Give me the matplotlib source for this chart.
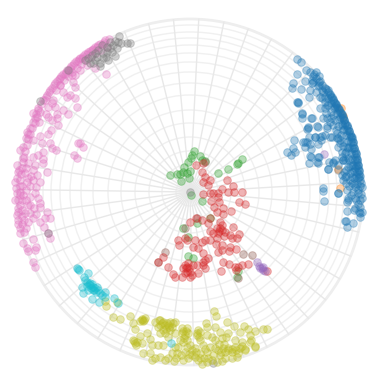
import numpy as np
import matplotlib
matplotlib.use("Agg")
import matplotlib.pyplot as plt

# all points, in picture pixels
blue = [(297,59),(301,62),(306,70),(297,74),(316,72),(319,76),(305,81),(293,83),(292,88),(301,89),
(312,83),(313,82),(310,90),(309,97),(319,85),(322,90),(328,90),(325,97),(297,102),(298,103),
(302,114),(302,118),(311,118),(308,127),(307,129),(317,126),(327,128),(294,140),(293,148),(287,152),
(291,155),(295,152),(305,147),(307,142),(310,144),(309,137),(315,137),(322,136),(325,135),(321,140),
(318,144),(311,157),(309,163),(318,157),(318,163),(329,162),(333,163),(328,169),(335,160),(332,137),
(338,138),(343,146),(347,147),(342,157),(343,160),
(310,72),(316,78),(322,85),(328,92),(331,97),(334,102),(337,107),(340,112),(343,117),(345,123),
(348,128),(350,134),(352,139),(353,145),(355,151),(356,157),(357,162),(358,168),(359,174),(360,180),(360,186),
(313,76),(319,82),(325,88),(330,95),(333,100),(336,105),(339,110),(342,115),(344,120),(347,126),
(349,131),(351,137),(353,142),(354,148),(356,154),(357,160),(358,165),(359,171),(359,177),
(312,80),(318,86),(323,92),(328,98),(331,103),(334,108),(337,113),(339,119),(342,124),(344,129),
(346,135),(348,141),(349,147),(351,153),(352,159),(353,165),(354,171),
(314,74),(320,81),(326,89),(330,94),(333,99),(336,104),(339,109),(342,114),(344,120),(347,125),
(349,131),(351,136),(353,142),(354,148),(356,153),(357,159),(358,165),(359,170),(360,176),(361,183),
(335,103),(338,108),(341,113),(343,118),(345,124),(347,130),(349,136),(351,142),(352,148),(354,154),
(355,160),(356,166),(357,172),(358,178),(357,184),(354,178),(352,172),(350,166),(348,158),(346,152),
(344,142),(341,135),(338,126),(335,120),(331,112),(328,105),(325,102),(320,97),(316,92),(327,118),
(333,125),(337,133),(340,140),(345,160),(348,167),(352,177),(349,186),(346,183),(342,175),(338,165),
(324,201),(347,202),(348,200),(355,198),(360,200),(362,198),(323,191),(338,193),(353,192),(347,211),
(355,208),(359,212),(362,212),(360,217),(354,210),(345,221),(353,223),(347,227),
(352,165),(345,177),(350,173),(343,180),(355,168),(355,187),(362,187),(358,193),(348,198),(360,207),
(360,213),(346,221),(323,188),(338,193),(328,169),(317,162),(310,156),(319,157),(333,162),(343,160),
(342,152),(338,147),(348,148),(343,130),(342,125),(352,137),(330,137),(337,138),(320,137),(315,137),
(305,142),(311,149),(303,142),(308,128),(318,127),(327,126),(312,118),(302,113),(298,102),(320,108),
(325,108),(322,98),(332,97),(327,105),(333,115),(323,118),(330,122),(340,117),(335,107),(346,170),
(350,180),(352,183),(347,190),(344,172),(349,160),(345,153),(340,143),(336,130),(331,118),(326,113),
(358,190),(361,194),(356,200),(358,204),(351,195),(354,184),(346,176),(356,176)]

orange = [(338,169),(341,108),(340,188),(343,116)]

pink = [(109,39),(104,42),(98,45),(93,49),(88,52),(83,56),(79,59),(74,63),(70,68),(66,72),
(61,76),(57,81),(54,85),(50,90),(47,95),(43,100),
(107,47),(101,50),(96,53),(91,57),(86,60),(81,64),(77,68),(72,72),(68,76),(64,80),(60,85),(56,90),
(105,40),(100,44),(95,47),(90,51),(85,54),(80,58),(76,61),(71,66),(67,70),(63,74),(59,79),(55,83),(52,88),
(103,44),(97,47),(92,50),(87,54),(82,58),(78,61),(73,65),(69,70),(65,74),(60,78),(49,92),(46,97),
(40,112),(37,117),(35,123),(32,128),(30,134),(28,139),(27,145),(25,151),(24,157),(23,162),
(22,168),(21,174),(20,180),(20,186),(20,192),(33,113),(27,132),(35,118),(33,122),(30,128),(28,134),
(26,138),(36,114),(38,108),(41,104),
(106,74),(78,143),(80,143),(83,147),(74,155),(77,158),(77,107),(68,114),(63,110),(57,114),
(57,118),(58,125),(52,120),(48,117),(46,114),(55,107),(48,107),(38,110),(39,122),(51,130),
(48,134),(33,140),(40,136),(50,143),(52,148),(56,150),(42,143),(43,152),(43,159),(43,163),
(47,172),(40,182),(33,180),(33,157),(28,163),(23,158),(23,147),(20,150),(17,165),(18,172),
(15,182),(25,173),(33,170),(27,182),(35,165),(38,155),(60,85),(63,92),(75,87),(73,82),
(75,75),(70,95),(75,98),(67,97),(53,100),(52,103),(45,100),(95,68),(87,65),(80,70),(72,75),
(17,193),(15,200),(23,195),(30,197),(35,193),(28,205),(40,203),(40,207),(47,212),(50,218),
(45,218),(40,222),(33,218),(30,213),(25,213),(17,215),(18,220),(20,228),(20,233),(26,228),
(33,239),(44,227),(48,233),(50,238),(23,243),(27,248),(36,247),(35,250),(28,251),(33,262),(35,267),
(20,205),(22,210),(18,200),(26,190),(28,178),(30,186),(18,208),(24,220),(22,224),
(16,188),(17,178),(19,170),(20,195),(22,200),(26,200),(30,205),(34,208),(38,198),(36,187),
(22,186),(26,168),(31,176),(37,175),(18,212),(22,216),(28,222),(36,214),(18,224),(24,232)]

gray = [(119,36),(130,43),(127,43),(121,43),(118,42),(115,41),(117,48),(115,56),(112,52),(108,60),
(106,57),(100,63),(100,66),(93,63),(95,60),(88,58),(90,63),(107,47),(102,45),(98,50),(103,53),
(110,42),(113,45),(95,53),(92,55),(103,58),(85,60),(97,57),(107,52),(110,48),(40,101),(68,70),
(190,192),(48,233),(338,170),(213,363)]

olive = [(113,317),(120,319),(130,316),(133,323),(135,329),(142,320),(143,321),(140,321),(145,318),(155,322),
(159,320),(162,323),(165,325),(158,327),(170,322),(173,323),(175,322),(168,325),(163,330),(160,333),
(172,327),(147,333),(140,336),(150,339),(133,340),(135,343),(137,342),(142,343),(152,345),(158,345),
(163,345),(175,333),(175,347),(182,328),(187,328),(185,335),(182,333),(188,333),(180,340),(187,340),
(187,347),(190,345),(198,330),(197,333),(200,332),(206,323),(207,327),(215,327),(227,322),(214,311),
(216,316),(220,332),(228,333),(207,335),(212,337),(200,340),(203,345),(215,340),(222,338),(226,337),
(235,340),(240,332),(244,326),(250,335),(255,331),(263,329),(267,329),(250,342),(255,347),(245,349),
(242,342),(235,347),(228,348),(223,348),(218,350),(232,352),(238,353),(237,357),(232,358),(225,358),
(220,355),(213,355),(207,352),(200,353),(195,357),(198,360),(202,364),(207,362),(217,362),(222,361),
(215,348),(192,355),(188,358),(183,360),(174,361),(165,360),(155,358),(150,353),(143,353),(152,360),
(172,353),(177,353),(185,352),(178,347),(168,337),(165,333),(195,348),(210,347),(183,342),
(106,306),(105,301),(117,302),(234,326),(248,329),(251,340),(255,346),(245,350),
(160,320),(163,322),(167,323),(160,325),(169,327),(166,329),(170,330),(142,319),(144,320),(134,341),
(136,345),(183,331),(186,331),(184,338),(197,335),(199,337),(228,350),(232,349),(236,350),(240,348),
(225,352),(221,352),(242,346),(204,358),(208,358),(212,360),(196,352),(200,358),(192,350),(189,354),
(181,355),(176,358),(168,358),(160,357),(205,349),(219,344),(224,344)]

cyan = [(77,268),(79,270),(88,273),(84,277),(87,282),(90,285),(93,287),(95,288),(98,290),(82,287),
(83,293),(88,290),(92,299),(99,302),(105,292),(105,297),(102,295),(114,298),(118,303),(90,283),
(93,290),(97,287),(171,343),(89,284),(92,284),(94,290),(96,292),(91,288),(87,286),(100,293),(78,269),(85,280)]

red = [(196,165),(203,163),(202,172),(205,177),(210,180),(203,182),(208,185),(227,180),(233,186),(228,192),
(234,192),(242,192),(203,194),(210,193),(213,193),(218,193),(222,189),(218,197),(211,201),(219,202),
(239,202),(245,204),(214,207),(223,208),(231,211),(217,212),(223,214),(210,218),(196,218),(190,222),
(202,220),(208,223),(220,222),(222,225),(233,227),(217,228),(210,231),(213,233),(225,232),(222,230),
(218,233),(230,235),(239,234),(237,238),(232,238),(217,238),(210,240),(205,240),(202,242),(195,240),
(185,238),(178,240),(179,245),(187,240),(193,247),(198,248),(216,244),(222,245),(230,247),(236,249),
(229,251),(218,252),(222,250),(203,253),(208,258),(205,260),(203,265),(205,268),(197,265),(193,265),
(188,263),(185,265),(183,268),(187,272),(192,275),(198,273),(182,277),(173,274),(175,277),(168,267),
(163,257),(158,262),(223,262),(221,271),(229,264),(235,267),(238,267),(236,270),(242,265),(248,264),
(190,272),(185,273),(190,277),(203,262),(187,267),(267,271),(220,228),(219,231),(224,236),(186,268),(189,268)]

green = [(194,151),(192,155),(191,158),(200,156),(202,160),(205,161),(188,162),(184,167),(183,172),(190,171),
(170,175),(177,174),(180,174),(187,173),(181,181),(189,178),(218,173),(228,169),(238,163),(242,159),
(237,164),(202,201),(191,195),(210,218),(197,223),(183,228),(188,237),(188,256),(193,258),(238,271),(237,277)]

brown = [(205,162),(165,252),(158,262),(243,254),(252,255),(238,278),(197,218),(185,228)]

purple = [(257,262),(259,266),(262,268),(263,270),(265,271),(260,268),(263,267),(324,154)]

# grid rings, read along the top of the disk
ring_radii = [14,28,41,55,69,82,97,109,120,130,139,147,154,160,167]
disk_r = 173
cx, cy = 190, 192
n_spokes = 43
spoke_start = 2.9

fig = plt.figure(figsize=(3.8,3.8), dpi=100)
ax = fig.add_axes([0,0,1,1])
ax.set_xlim(0,380)
ax.set_ylim(380,0)
ax.axis('off')

for r in ring_radii:
    ax.add_patch(plt.Circle((cx,cy), r, fill=False, ec='#f0f0f0', lw=1.0, zorder=1))
ax.add_patch(plt.Circle((cx,cy), disk_r, fill=False, ec='#eeeeee', lw=2.0, zorder=1))

for k in range(n_spokes):
    t = np.deg2rad(spoke_start + k*360/n_spokes)
    ax.plot([cx, cx+disk_r*np.sin(t)], [cy, cy-disk_r*np.cos(t)], color='#e8e8e8', lw=1.0, zorder=1)

groups = [(green,'tab:green'),(orange,'tab:orange'),(pink,'tab:pink'),(gray,'tab:gray'),
          (brown,'tab:brown'),(red,'tab:red'),(purple,'tab:purple'),(olive,'tab:olive'),
          (cyan,'tab:cyan'),(blue,'tab:blue')]
for pts, col in groups:
    p = np.array(pts)
    ax.scatter(p[:,0], p[:,1], s=30, color=col, alpha=0.35, linewidths=0.7, zorder=3)

plt.savefig("out.png", dpi=100)
